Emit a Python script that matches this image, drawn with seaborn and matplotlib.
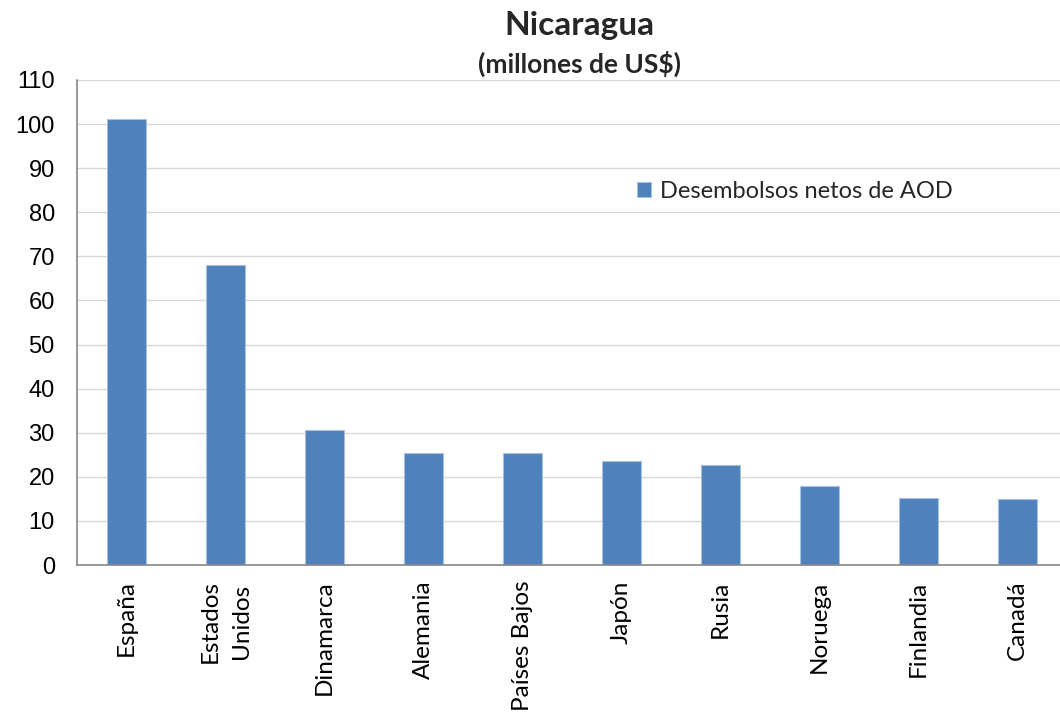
import pandas as pd
import matplotlib.pyplot as plt
import seaborn as sns

# --- Données ---
paises = ["España", "Estados\nUnidos", "Dinamarca", "Alemania", "Países Bajos",
          "Japón", "Rusia", "Noruega", "Finlandia", "Canadá"]
desembolsos = [101.1, 68.0, 30.6, 25.4, 25.3, 23.7, 22.6, 17.9, 15.3, 15.0]
y_ticks = list(range(0, 111, 10))

df = pd.DataFrame({"pais": paises, "valor": desembolsos})

sns.set_style("white")
plt.rcParams["font.family"] = ["Lato", "DejaVu Sans"]

fig = plt.figure(figsize=(10.6, 7.19), dpi=100)
ax = fig.add_axes([77 / 1060, 1 - 565 / 719, 990 / 1060, 485 / 719])

sns.barplot(data=df, x="pais", y="valor", color="#4F81BD", width=0.4,
            saturation=1, edgecolor="#A7C0DE", linewidth=0.8, ax=ax,
            label="Desembolsos netos de AOD")

ax.set_ylim(0, 110)
ax.set_yticks(y_ticks)
ax.set_xlim(-0.5, len(paises) - 0.5)
ax.yaxis.grid(True, color="#D9D9D9", linewidth=1)
ax.set_axisbelow(True)
for s in ["top", "right"]:
    ax.spines[s].set_visible(False)
for s in ["left", "bottom"]:
    ax.spines[s].set_color("#868686")
    ax.spines[s].set_linewidth(1.2)

ax.tick_params(axis="both", length=0, colors="black")
ax.tick_params(axis="y", pad=16)
ax.tick_params(axis="x", pad=11)
for t in ax.get_yticklabels():
    t.set_fontfamily(["Liberation Sans", "DejaVu Sans"])
    t.set_fontsize(17)
for t in ax.get_xticklabels():
    t.set_fontsize(17.5)
    t.set_rotation(90)
    t.set_va("top")
    t.set_ha("center")
    t.set_multialignment("center")
    t.set_linespacing(1.6)
ax.set_xlabel("")
ax.set_ylabel("")

ax.legend(loc="upper left", bbox_to_anchor=(0.544, 0.835), frameon=False,
          fontsize=17, handlelength=0.6, handleheight=0.6, handletextpad=0.4)

fig.text(0.547, 1 - 25 / 719, "Nicaragua", ha="center", va="center", fontsize=24, fontweight="bold")
fig.text(0.547, 1 - 64 / 719, "(millones de US$)", ha="center", va="center", fontsize=19, fontweight="bold")

fig.savefig("out.png", dpi=100)
